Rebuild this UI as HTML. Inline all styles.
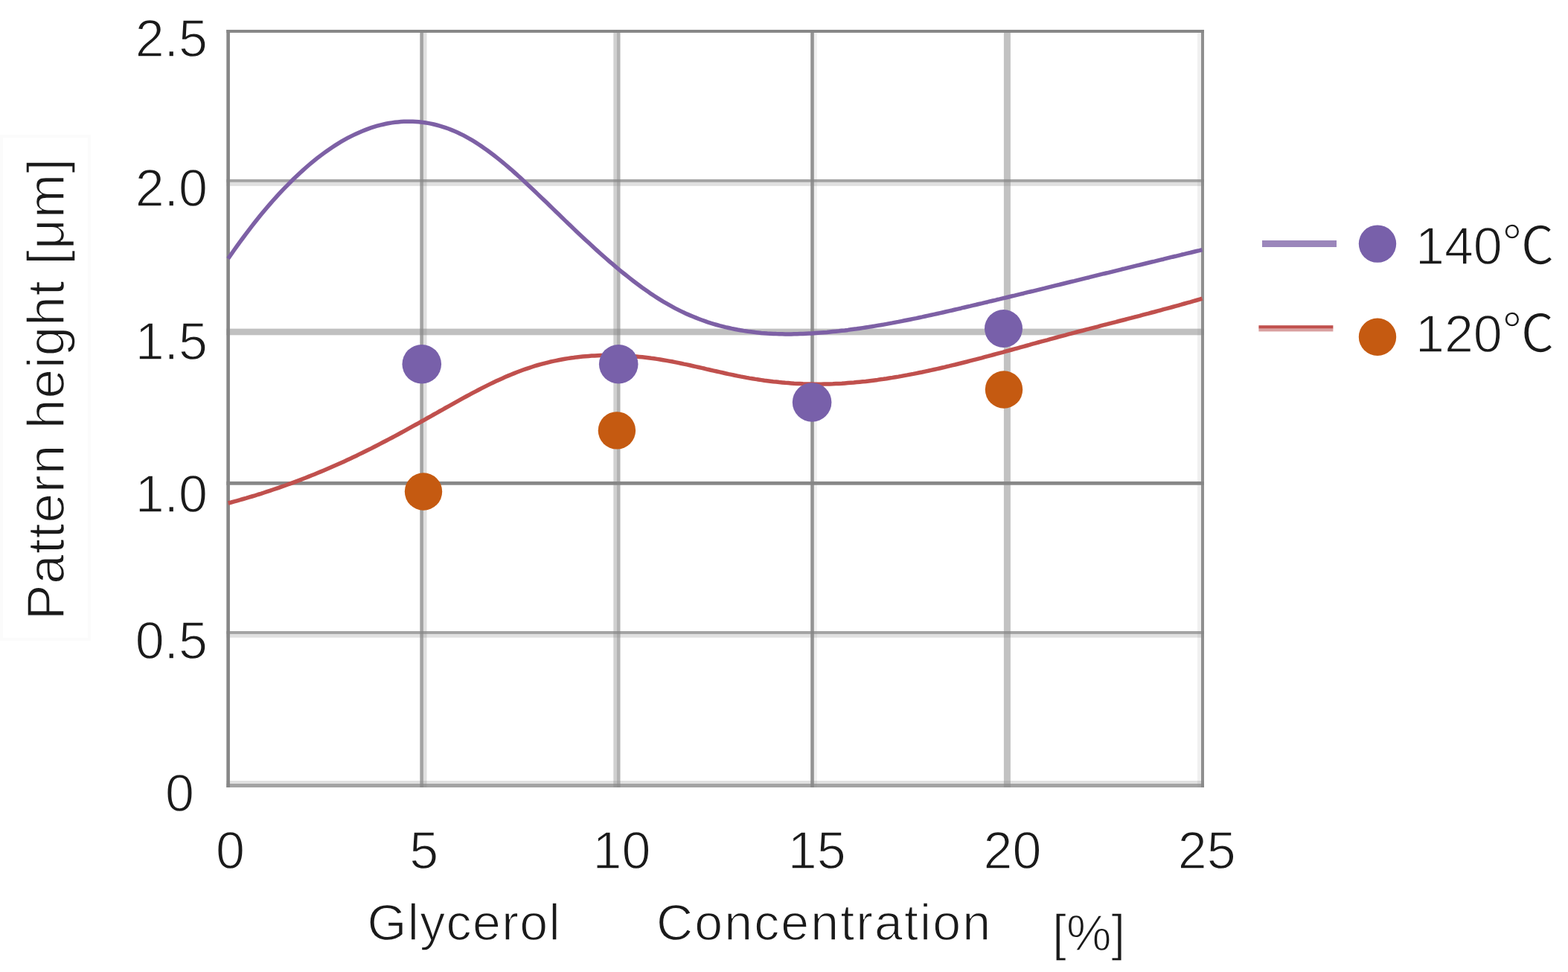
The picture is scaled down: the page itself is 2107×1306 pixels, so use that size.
<!DOCTYPE html>
<html><head><meta charset="utf-8"><title>Pattern height vs Glycerol Concentration</title>
<style>
html,body{margin:0;padding:0;background:#fff;}
body{width:2107px;height:1306px;overflow:hidden;position:relative;}
svg{position:absolute;left:0;top:0;display:block;}
text{font-family:"Liberation Sans","Noto Sans CJK JP",Arial,sans-serif;fill:#1a1a1a;stroke:#fff;stroke-width:1.4px;}
</style></head>
<body>
<svg width="2107" height="1306" viewBox="0 0 2107 1306">
<rect x="0" y="0" width="2107" height="1306" fill="#fff"/>
<!-- faint y-title box -->
<rect x="2" y="183" width="118" height="676" fill="none" stroke="#fbfbfb" stroke-width="4"/>
<g id="grid" fill="#878787">
<rect x="304.3" y="40" width="1313.7" height="4" fill-opacity="1.0"/>
<rect x="304.3" y="240.9" width="1313.7" height="3.9" fill-opacity="0.767"/>
<rect x="304.3" y="244.8" width="1313.7" height="5.1" fill-opacity="0.258"/>
<rect x="304.3" y="441.6" width="1313.7" height="8.7" fill-opacity="0.525"/>
<rect x="304.3" y="646.9" width="1313.7" height="4.8" fill-opacity="1.0"/>
<rect x="304.3" y="848" width="1313.7" height="3.9" fill-opacity="0.767"/>
<rect x="304.3" y="851.9" width="1313.7" height="4.8" fill-opacity="0.258"/>
<rect x="304.3" y="1049" width="1313.7" height="4" fill-opacity="0.258"/>
<rect x="304.3" y="1053" width="1313.7" height="5" fill-opacity="0.767"/>
<rect x="304.3" y="40" width="4.6" height="1018" fill-opacity="1.0"/>
<rect x="564.3" y="40" width="4.6" height="1018" fill-opacity="0.767"/>
<rect x="568.9" y="40" width="4.6" height="1018" fill-opacity="0.258"/>
<rect x="824.3" y="40" width="4.6" height="1018" fill-opacity="0.39"/>
<rect x="828.9" y="40" width="4.6" height="1018" fill-opacity="0.633"/>
<rect x="1089.2" y="40" width="4.6" height="1018" fill-opacity="0.9"/>
<rect x="1093.8" y="40" width="4.1" height="1018" fill-opacity="0.125"/>
<rect x="1348.9" y="40" width="9" height="1018" fill-opacity="0.508"/>
<rect x="1609" y="40" width="5" height="1018" fill-opacity="0.125"/>
<rect x="1614" y="40" width="4" height="1018" fill-opacity="0.93"/>
</g>
<!-- curves -->
<path d="M306.6 347.5 L310.6 341.7 L314.6 336.0 L318.6 330.4 L322.6 324.9 L326.6 319.5 L330.6 314.1 L334.6 308.8 L338.6 303.6 L342.6 298.5 L346.6 293.5 L350.6 288.6 L354.6 283.8 L358.6 279.0 L362.6 274.4 L366.6 269.8 L370.6 265.3 L374.6 260.9 L378.6 256.6 L382.7 252.4 L386.7 248.3 L390.7 244.3 L394.7 240.3 L398.7 236.5 L402.7 232.7 L406.7 229.1 L410.7 225.5 L414.7 222.0 L418.7 218.7 L422.7 215.4 L426.7 212.2 L430.7 209.1 L434.7 206.1 L438.7 203.2 L442.7 200.4 L446.7 197.7 L450.7 195.1 L454.7 192.6 L458.7 190.2 L462.7 187.9 L466.7 185.7 L470.7 183.6 L474.7 181.6 L478.7 179.7 L482.7 177.9 L486.7 176.2 L490.7 174.6 L494.7 173.1 L498.7 171.7 L502.7 170.4 L506.7 169.2 L510.7 168.1 L514.7 167.2 L518.7 166.3 L522.7 165.5 L526.8 164.9 L530.8 164.3 L534.8 163.9 L538.8 163.5 L542.8 163.3 L546.8 163.2 L550.8 163.2 L554.8 163.3 L558.8 163.5 L562.8 163.8 L566.8 164.2 L570.8 164.7 L574.8 165.4 L578.8 166.1 L582.8 167.0 L586.8 168.0 L590.8 169.1 L594.8 170.3 L598.8 171.6 L602.8 173.0 L606.8 174.6 L610.8 176.3 L614.8 178.0 L618.8 179.9 L622.8 181.9 L626.8 184.1 L630.8 186.3 L634.8 188.7 L638.8 191.1 L642.8 193.7 L646.8 196.4 L650.8 199.2 L654.8 202.0 L658.8 205.0 L662.8 208.0 L666.8 211.2 L670.9 214.4 L674.9 217.6 L678.9 221.0 L682.9 224.4 L686.9 227.8 L690.9 231.4 L694.9 234.9 L698.9 238.6 L702.9 242.2 L706.9 245.9 L710.9 249.7 L714.9 253.4 L718.9 257.2 L722.9 261.1 L726.9 264.9 L730.9 268.8 L734.9 272.6 L738.9 276.5 L742.9 280.4 L746.9 284.3 L750.9 288.1 L754.9 292.0 L758.9 295.9 L762.9 299.7 L766.9 303.5 L770.9 307.4 L774.9 311.2 L778.9 314.9 L782.9 318.7 L786.9 322.4 L790.9 326.1 L794.9 329.8 L798.9 333.5 L802.9 337.1 L806.9 340.7 L810.9 344.3 L814.9 347.8 L819.0 351.3 L823.0 354.7 L827.0 358.1 L831.0 361.5 L835.0 364.8 L839.0 368.0 L843.0 371.2 L847.0 374.4 L851.0 377.5 L855.0 380.5 L859.0 383.5 L863.0 386.5 L867.0 389.3 L871.0 392.1 L875.0 394.9 L879.0 397.5 L883.0 400.1 L887.0 402.6 L891.0 405.1 L895.0 407.4 L899.0 409.7 L903.0 411.9 L907.0 414.1 L911.0 416.1 L915.0 418.1 L919.0 420.0 L923.0 421.9 L927.0 423.6 L931.0 425.3 L935.0 426.9 L939.0 428.5 L943.0 430.0 L947.0 431.4 L951.0 432.8 L955.0 434.1 L959.0 435.3 L963.1 436.5 L967.1 437.6 L971.1 438.6 L975.1 439.6 L979.1 440.5 L983.1 441.4 L987.1 442.2 L991.1 443.0 L995.1 443.7 L999.1 444.4 L1003.1 445.0 L1007.1 445.6 L1011.1 446.1 L1015.1 446.6 L1019.1 447.0 L1023.1 447.4 L1027.1 447.7 L1031.1 448.0 L1035.1 448.2 L1039.1 448.4 L1043.1 448.6 L1047.1 448.7 L1051.1 448.8 L1055.1 448.9 L1059.1 448.9 L1063.1 448.9 L1067.1 448.8 L1071.1 448.7 L1075.1 448.6 L1079.1 448.5 L1083.1 448.3 L1087.1 448.1 L1091.1 447.9 L1095.1 447.6 L1099.1 447.3 L1103.1 447.0 L1107.2 446.7 L1111.2 446.4 L1115.2 446.0 L1119.2 445.6 L1123.2 445.2 L1127.2 444.8 L1131.2 444.3 L1135.2 443.9 L1139.2 443.4 L1143.2 442.8 L1147.2 442.3 L1151.2 441.8 L1155.2 441.2 L1159.2 440.6 L1163.2 440.0 L1167.2 439.4 L1171.2 438.8 L1175.2 438.1 L1179.2 437.4 L1183.2 436.8 L1187.2 436.1 L1191.2 435.4 L1195.2 434.6 L1199.2 433.9 L1203.2 433.1 L1207.2 432.4 L1211.2 431.6 L1215.2 430.8 L1219.2 430.0 L1223.2 429.2 L1227.2 428.4 L1231.2 427.6 L1235.2 426.7 L1239.2 425.9 L1243.2 425.0 L1247.2 424.1 L1251.2 423.3 L1255.3 422.4 L1259.3 421.5 L1263.3 420.6 L1267.3 419.7 L1271.3 418.8 L1275.3 417.9 L1279.3 417.0 L1283.3 416.0 L1287.3 415.1 L1291.3 414.2 L1295.3 413.2 L1299.3 412.3 L1303.3 411.4 L1307.3 410.4 L1311.3 409.5 L1315.3 408.5 L1319.3 407.6 L1323.3 406.6 L1327.3 405.7 L1331.3 404.7 L1335.3 403.8 L1339.3 402.8 L1343.3 401.9 L1347.3 400.9 L1351.3 400.0 L1355.3 399.0 L1359.3 398.0 L1363.3 397.1 L1367.3 396.1 L1371.3 395.1 L1375.3 394.2 L1379.3 393.2 L1383.3 392.2 L1387.3 391.3 L1391.3 390.3 L1395.3 389.3 L1399.4 388.3 L1403.4 387.4 L1407.4 386.4 L1411.4 385.4 L1415.4 384.4 L1419.4 383.4 L1423.4 382.5 L1427.4 381.5 L1431.4 380.5 L1435.4 379.5 L1439.4 378.5 L1443.4 377.6 L1447.4 376.6 L1451.4 375.6 L1455.4 374.6 L1459.4 373.6 L1463.4 372.7 L1467.4 371.7 L1471.4 370.7 L1475.4 369.7 L1479.4 368.7 L1483.4 367.7 L1487.4 366.8 L1491.4 365.8 L1495.4 364.8 L1499.4 363.8 L1503.4 362.8 L1507.4 361.8 L1511.4 360.9 L1515.4 359.9 L1519.4 358.9 L1523.4 357.9 L1527.4 356.9 L1531.4 356.0 L1535.4 355.0 L1539.4 354.0 L1543.5 353.0 L1547.5 352.0 L1551.5 351.1 L1555.5 350.1 L1559.5 349.1 L1563.5 348.2 L1567.5 347.2 L1571.5 346.2 L1575.5 345.2 L1579.5 344.3 L1583.5 343.3 L1587.5 342.3 L1591.5 341.4 L1595.5 340.4 L1599.5 339.5 L1603.5 338.5 L1607.5 337.5 L1611.5 336.6 L1615.5 335.6" fill="none" stroke="#7d60a5" stroke-width="5.5" stroke-linejoin="round"/>
<path d="M306.6 676.0 L310.6 675.0 L314.6 673.9 L318.6 672.8 L322.6 671.7 L326.6 670.5 L330.6 669.4 L334.6 668.2 L338.6 667.0 L342.6 665.8 L346.6 664.5 L350.6 663.3 L354.6 662.0 L358.6 660.7 L362.6 659.4 L366.6 658.0 L370.6 656.7 L374.6 655.3 L378.6 653.9 L382.7 652.5 L386.7 651.0 L390.7 649.6 L394.7 648.1 L398.7 646.6 L402.7 645.1 L406.7 643.5 L410.7 642.0 L414.7 640.4 L418.7 638.8 L422.7 637.2 L426.7 635.5 L430.7 633.9 L434.7 632.2 L438.7 630.5 L442.7 628.8 L446.7 627.0 L450.7 625.3 L454.7 623.5 L458.7 621.7 L462.7 619.9 L466.7 618.0 L470.7 616.2 L474.7 614.3 L478.7 612.4 L482.7 610.4 L486.7 608.5 L490.7 606.5 L494.7 604.6 L498.7 602.6 L502.7 600.5 L506.7 598.5 L510.7 596.4 L514.7 594.3 L518.7 592.2 L522.7 590.1 L526.8 588.0 L530.8 585.8 L534.8 583.7 L538.8 581.5 L542.8 579.3 L546.8 577.1 L550.8 574.9 L554.8 572.7 L558.8 570.5 L562.8 568.3 L566.8 566.0 L570.8 563.8 L574.8 561.5 L578.8 559.3 L582.8 557.0 L586.8 554.8 L590.8 552.5 L594.8 550.3 L598.8 548.0 L602.8 545.8 L606.8 543.6 L610.8 541.3 L614.8 539.1 L618.8 536.9 L622.8 534.7 L626.8 532.5 L630.8 530.4 L634.8 528.2 L638.8 526.1 L642.8 524.0 L646.8 521.9 L650.8 519.9 L654.8 517.9 L658.8 515.9 L662.8 514.0 L666.8 512.1 L670.9 510.2 L674.9 508.4 L678.9 506.6 L682.9 504.9 L686.9 503.2 L690.9 501.6 L694.9 500.0 L698.9 498.5 L702.9 497.0 L706.9 495.6 L710.9 494.3 L714.9 493.0 L718.9 491.7 L722.9 490.5 L726.9 489.4 L730.9 488.3 L734.9 487.3 L738.9 486.3 L742.9 485.4 L746.9 484.6 L750.9 483.8 L754.9 483.0 L758.9 482.3 L762.9 481.6 L766.9 481.0 L770.9 480.5 L774.9 479.9 L778.9 479.5 L782.9 479.1 L786.9 478.7 L790.9 478.4 L794.9 478.1 L798.9 477.9 L802.9 477.7 L806.9 477.5 L810.9 477.4 L814.9 477.4 L819.0 477.3 L823.0 477.4 L827.0 477.4 L831.0 477.5 L835.0 477.7 L839.0 477.9 L843.0 478.1 L847.0 478.4 L851.0 478.7 L855.0 479.0 L859.0 479.4 L863.0 479.8 L867.0 480.2 L871.0 480.7 L875.0 481.3 L879.0 481.8 L883.0 482.4 L887.0 483.0 L891.0 483.7 L895.0 484.4 L899.0 485.1 L903.0 485.8 L907.0 486.6 L911.0 487.4 L915.0 488.2 L919.0 489.1 L923.0 489.9 L927.0 490.8 L931.0 491.7 L935.0 492.6 L939.0 493.5 L943.0 494.4 L947.0 495.3 L951.0 496.3 L955.0 497.2 L959.0 498.1 L963.1 499.0 L967.1 499.9 L971.1 500.8 L975.1 501.7 L979.1 502.6 L983.1 503.4 L987.1 504.3 L991.1 505.1 L995.1 505.9 L999.1 506.6 L1003.1 507.4 L1007.1 508.1 L1011.1 508.7 L1015.1 509.4 L1019.1 510.0 L1023.1 510.6 L1027.1 511.2 L1031.1 511.7 L1035.1 512.2 L1039.1 512.7 L1043.1 513.1 L1047.1 513.6 L1051.1 513.9 L1055.1 514.3 L1059.1 514.6 L1063.1 514.9 L1067.1 515.2 L1071.1 515.4 L1075.1 515.6 L1079.1 515.8 L1083.1 515.9 L1087.1 516.1 L1091.1 516.1 L1095.1 516.2 L1099.1 516.2 L1103.1 516.2 L1107.2 516.1 L1111.2 516.0 L1115.2 515.9 L1119.2 515.8 L1123.2 515.6 L1127.2 515.4 L1131.2 515.2 L1135.2 514.9 L1139.2 514.6 L1143.2 514.3 L1147.2 514.0 L1151.2 513.6 L1155.2 513.2 L1159.2 512.8 L1163.2 512.4 L1167.2 511.9 L1171.2 511.4 L1175.2 510.9 L1179.2 510.4 L1183.2 509.8 L1187.2 509.3 L1191.2 508.7 L1195.2 508.0 L1199.2 507.4 L1203.2 506.7 L1207.2 506.1 L1211.2 505.4 L1215.2 504.6 L1219.2 503.9 L1223.2 503.1 L1227.2 502.4 L1231.2 501.6 L1235.2 500.8 L1239.2 500.0 L1243.2 499.1 L1247.2 498.3 L1251.2 497.4 L1255.3 496.5 L1259.3 495.6 L1263.3 494.7 L1267.3 493.8 L1271.3 492.8 L1275.3 491.9 L1279.3 490.9 L1283.3 490.0 L1287.3 489.0 L1291.3 488.0 L1295.3 487.0 L1299.3 486.0 L1303.3 484.9 L1307.3 483.9 L1311.3 482.9 L1315.3 481.8 L1319.3 480.8 L1323.3 479.7 L1327.3 478.7 L1331.3 477.6 L1335.3 476.5 L1339.3 475.4 L1343.3 474.3 L1347.3 473.3 L1351.3 472.2 L1355.3 471.1 L1359.3 470.0 L1363.3 468.9 L1367.3 467.8 L1371.3 466.7 L1375.3 465.6 L1379.3 464.5 L1383.3 463.4 L1387.3 462.2 L1391.3 461.1 L1395.3 460.0 L1399.4 458.9 L1403.4 457.8 L1407.4 456.8 L1411.4 455.7 L1415.4 454.6 L1419.4 453.5 L1423.4 452.4 L1427.4 451.3 L1431.4 450.3 L1435.4 449.2 L1439.4 448.2 L1443.4 447.1 L1447.4 446.0 L1451.4 445.0 L1455.4 444.0 L1459.4 442.9 L1463.4 441.9 L1467.4 440.8 L1471.4 439.8 L1475.4 438.8 L1479.4 437.7 L1483.4 436.7 L1487.4 435.7 L1491.4 434.6 L1495.4 433.6 L1499.4 432.6 L1503.4 431.5 L1507.4 430.5 L1511.4 429.5 L1515.4 428.4 L1519.4 427.4 L1523.4 426.3 L1527.4 425.3 L1531.4 424.3 L1535.4 423.2 L1539.4 422.1 L1543.5 421.1 L1547.5 420.0 L1551.5 419.0 L1555.5 417.9 L1559.5 416.8 L1563.5 415.7 L1567.5 414.7 L1571.5 413.6 L1575.5 412.5 L1579.5 411.4 L1583.5 410.3 L1587.5 409.2 L1591.5 408.0 L1595.5 406.9 L1599.5 405.8 L1603.5 404.6 L1607.5 403.5 L1611.5 402.3 L1615.5 401.1" fill="none" stroke="#c0504d" stroke-width="5.5" stroke-linejoin="round"/>
<!-- markers -->
<g fill="#c55a11">
<circle cx="569" cy="660.5" r="25.2"/>
<circle cx="828.9" cy="578.4" r="25.2"/>
<circle cx="1349" cy="523.5" r="25.2"/>
</g>
<g fill="#7860aa">
<circle cx="566.75" cy="489.2" r="26.3"/>
<circle cx="831.2" cy="489.2" r="26.3"/>
<circle cx="1091.1" cy="540.5" r="26.3"/>
<circle cx="1348.5" cy="441.5" r="25.5"/>
</g>
<!-- y tick labels -->
<g font-size="70" text-anchor="end">
<text x="279" y="76">2.5</text>
<text x="279" y="277">2.0</text>
<text x="279" y="483">1.5</text>
<text x="279" y="688">1.0</text>
<text x="279" y="885">0.5</text>
<text x="261" y="1090">0</text>
</g>
<!-- x tick labels -->
<g font-size="70" text-anchor="middle">
<text x="309.5" y="1167">0</text>
<text x="569.8" y="1167">5</text>
<text x="835.5" y="1167">10</text>
<text x="1097.7" y="1167">15</text>
<text x="1360.5" y="1167">20</text>
<text x="1621.7" y="1167">25</text>
</g>
<!-- axis titles -->
<g font-size="68">
<text x="493.5" y="1262.5" textLength="259" lengthAdjust="spacing">Glycerol</text>
<text x="882" y="1262.5" textLength="449" lengthAdjust="spacing">Concentration</text>
<text x="1414" y="1277">[%]</text>
<text transform="translate(86 833) rotate(-90)" x="0" y="0" font-size="71" textLength="620" lengthAdjust="spacing">Pattern height [μm]</text>
</g>
<!-- legend -->
<rect x="1696" y="323" width="100" height="9" fill="#9b86bb"/>
<circle cx="1851" cy="327.6" r="25.2" fill="#7860aa"/>
<rect x="1691.4" y="437.2" width="100" height="4.5" fill="#c0504d"/>
<rect x="1691.4" y="441.7" width="100" height="3.7" fill="#d9a0a0"/>
<circle cx="1851" cy="452.7" r="25.2" fill="#c55a11"/>
<g font-size="70">
<text x="1902" y="354.7">140℃</text>
<text x="1902" y="473.3">120℃</text>
</g>
</svg>
</body></html>
